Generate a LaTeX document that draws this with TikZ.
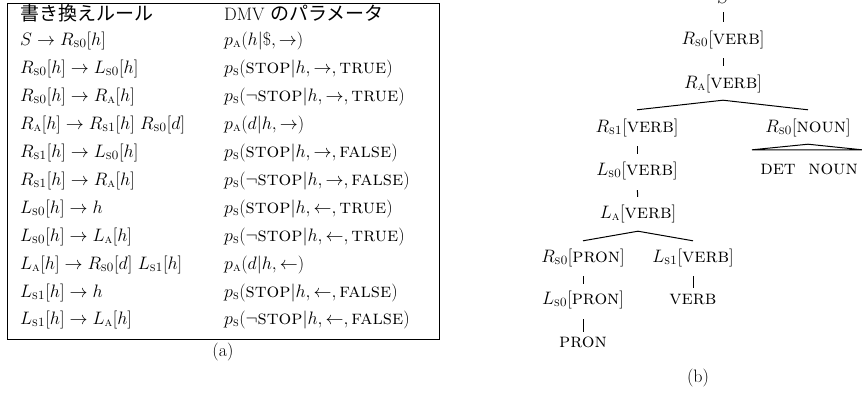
\RequirePackage{fix-cm}
\documentclass[tikz,border=0pt]{standalone}
\usepackage{amsmath}
\usepackage{fontspec}
\newfontfamily\jpfont{Noto Sans CJK JP}
\usetikzlibrary{calc}
\newcommand{\Rx}[1]{R_{\text{\textsc{#1}}}}
\newcommand{\Lx}[1]{L_{\text{\textsc{#1}}}}
\newcommand{\px}[1]{p_{\text{\textsc{#1}}}}
\newcommand{\SC}[1]{\text{\fontsize{20}{22}\selectfont\scshape #1}}
\begin{document}
\begin{tikzpicture}[x=1pt,y=-1pt,
  every node/.style={font=\fontsize{18}{22}\selectfont},
  rowtext/.style={anchor=west,inner sep=0pt,text height=13pt,text depth=4.5pt},
  tnode/.style={inner sep=0pt,text height=12pt,text depth=4pt},
  tline/.style={line width=1pt},
  frame/.style={line width=0.9pt}]
\useasboundingbox (0,0) rectangle (862,394);
% ---------- (a) table ----------
\draw[frame] (7,3) rectangle (439,339);
\node[rowtext] (h1) at (20,16) {\jpfont\fontsize{19}{22}\selectfont 書き換えルール};
\node[rowtext] (h2) at (224,16) {DMV {\jpfont\fontsize{19}{22}\selectfont のパラメータ}};
\foreach \y/\l/\r [count=\i] in {
  41/{$S\rightarrow \Rx{s0}[h]$}/{$\px{a}(h|\$,\rightarrow)$},
  69/{$\Rx{s0}[h]\rightarrow \Lx{s0}[h]$}/{$\px{s}(\SC{stop}|h,\rightarrow,\SC{true})$},
  97/{$\Rx{s0}[h]\rightarrow \Rx{a}[h]$}/{$\px{s}(\neg\SC{stop}|h,\rightarrow,\SC{true})$},
  125/{$\Rx{a}[h]\rightarrow \Rx{s1}[h]\ \Rx{s0}[d]$}/{$\px{a}(d|h,\rightarrow)$},
  153/{$\Rx{s1}[h]\rightarrow \Lx{s0}[h]$}/{$\px{s}(\SC{stop}|h,\rightarrow,\SC{false})$},
  181/{$\Rx{s1}[h]\rightarrow \Rx{a}[h]$}/{$\px{s}(\neg\SC{stop}|h,\rightarrow,\SC{false})$},
  209/{$\Lx{s0}[h]\rightarrow h$}/{$\px{s}(\SC{stop}|h,\leftarrow,\SC{true})$},
  237/{$\Lx{s0}[h]\rightarrow \Lx{a}[h]$}/{$\px{s}(\neg\SC{stop}|h,\leftarrow,\SC{true})$},
  265/{$\Lx{a}[h]\rightarrow \Rx{s0}[d]\ \Lx{s1}[h]$}/{$\px{a}(d|h,\leftarrow)$},
  293/{$\Lx{s1}[h]\rightarrow h$}/{$\px{s}(\SC{stop}|h,\leftarrow,\SC{false})$},
  320/{$\Lx{s1}[h]\rightarrow \Lx{a}[h]$}/{$\px{s}(\neg\SC{stop}|h,\leftarrow,\SC{false})$}}
{
  \node[rowtext] (l\i) at (20,\y) {\l};
  \node[rowtext] (r\i) at (224,\y) {\r};
}
\node[tnode] (capa) at (223,352) {(a)};
% ---------- (b) tree ----------
\node[tnode] (S)    at (723,-1)  {$S$};
\node[tnode] (Rs0V) at (723,40)  {$\Rx{s0}[\SC{verb}]$};
\node[tnode] (RAV)  at (723,84)  {$\Rx{a}[\SC{verb}]$};
\node[tnode] (Rs1V) at (637,128) {$\Rx{s1}[\SC{verb}]$};
\node[tnode] (Rs0N) at (808,128) {$\Rx{s0}[\SC{noun}]$};
\node[tnode] (DET)  at (778,170) {\SC{det}};
\node[tnode] (NOUN) at (833,170) {\SC{noun}};
\node[tnode] (Ls0V) at (637,171) {$\Lx{s0}[\SC{verb}]$};
\node[tnode] (LAV)  at (638,214) {$\Lx{a}[\SC{verb}]$};
\node[tnode] (Rs0P) at (583,258) {$\Rx{s0}[\SC{pron}]$};
\node[tnode] (Ls1V) at (693,258) {$\Lx{s1}[\SC{verb}]$};
\node[tnode] (Ls0P) at (583,300) {$\Lx{s0}[\SC{pron}]$};
\node[tnode] (VERB) at (693,300) {\SC{verb}};
\node[tnode] (PRON) at (583,343) {\SC{pron}};
\node[tnode] (capb) at (698,378) {(b)};
\draw[tline,shorten <=5pt,shorten >=10pt] (S.south) -- (Rs0V.north);
\draw[tline,shorten <=10pt,shorten >=10pt] (Rs0V.south) -- (RAV.north);
\coordinate (ra) at ([yshift=-8pt]RAV.south);
\draw[tline] ([yshift=10pt]Rs1V.north) -- (ra) -- ([yshift=10pt]Rs0N.north);
\draw[tline,shorten <=10pt,shorten >=9pt] (Rs1V.south) -- (Ls0V.north);
\draw[tline,shorten <=11pt,shorten >=9pt] (Ls0V.south) -- (LAV.north);
\coordinate (la) at ([yshift=-9pt]LAV.south);
\draw[tline] ([yshift=9pt]Rs0P.north) -- (la) -- ([yshift=9pt]Ls1V.north);
\draw[tline,shorten <=10pt,shorten >=8pt] (Rs0P.south) -- (Ls0P.north);
\draw[tline,shorten <=10pt,shorten >=4pt] (Ls1V.south) -- (VERB.north);
\draw[tline,shorten <=11pt,shorten >=3pt] (Ls0P.south) -- (PRON.north);
\coordinate (tp) at ([yshift=-8pt]Rs0N.south);
\draw[tline] (tp) -- ($(DET.north)+(-26,-12)$) -- ($(NOUN.north)+(29,-12)$) -- cycle;
\end{tikzpicture}
\end{document}
